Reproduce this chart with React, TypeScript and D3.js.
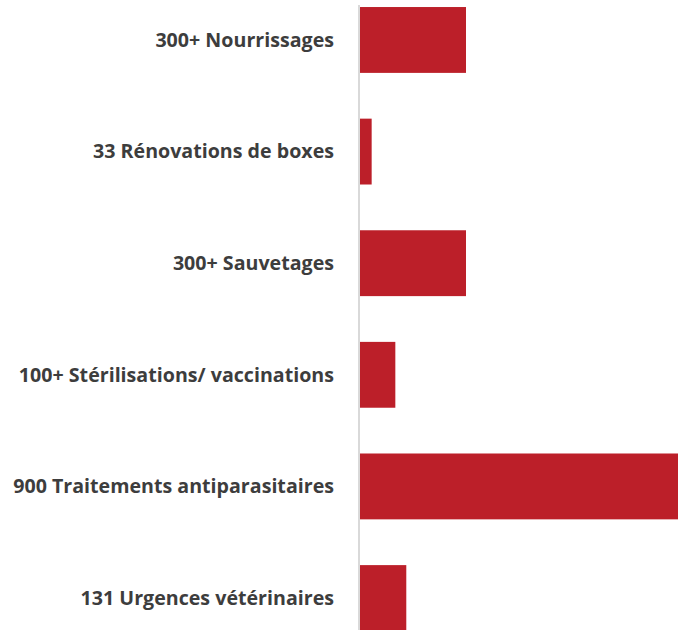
import React, { useEffect, useRef } from "react";
import * as d3 from "d3";

const labels = [
  "300+ Nourrissages",
  "33 Rénovations de boxes",
  "300+ Sauvetages",
  "100+ Stérilisations/ vaccinations",
  "900 Traitements antiparasitaires",
  "131 Urgences vétérinaires",
];
const values = [300, 33, 300, 100, 900, 131];

const App = () => {
  const ref = useRef<SVGSVGElement>(null);

  useEffect(() => {
    const width = 679;
    const height = 630;
    const axisX = 359;

    const svg = d3.select(ref.current);
    svg.selectAll("*").remove();
    svg.attr("width", width).attr("height", height);

    const x = d3.scaleLinear().domain([0, 900]).range([axisX + 1, 678]);
    const y = d3
      .scaleBand()
      .domain(labels)
      .range([0, 638])
      .paddingInner(0.41)
      .paddingOuter(0.063);

    svg
      .selectAll("rect.bar")
      .data(values)
      .join("rect")
      .attr("class", "bar")
      .attr("x", x(0))
      .attr("y", (_, i) => y(labels[i]) as number)
      .attr("width", (d) => x(d) - x(0))
      .attr("height", y.bandwidth())
      .attr("fill", "#bc1f29");

    // axis line
    svg
      .append("line")
      .attr("x1", axisX)
      .attr("x2", axisX)
      .attr("y1", 5)
      .attr("y2", height)
      .attr("stroke", "#cccccc")
      .attr("stroke-width", 1.5);

    const text = svg
      .selectAll("text.label")
      .data(labels)
      .join("text")
      .attr("class", "label")
      .attr("x", 334)
      .attr("y", (d) => (y(d) as number) + y.bandwidth() / 2)
      .attr("dy", "0.35em")
      .attr("text-anchor", "end")
      .style("font-family", "'Open Sans', sans-serif")
      .style("font-weight", "bold")
      .style("font-size", "17px")
      .style("fill", "#3d3d3d")
      .text((d) => d);

    // fit the longest label to the width seen in the original
    const longest = text.filter((d) => d === labels[4]).node() as SVGTextElement;
    const w = longest.getComputedTextLength();
    if (w > 0) {
      const size = Math.min(20, Math.max(14, (17 * 321) / w));
      text.style("font-size", `${size}px`);
    }
  }, []);

  return (
    <svg
      ref={ref}
      style={{ position: "absolute", left: 0, top: 0, display: "block" }}
    />
  );
};

export default App;
